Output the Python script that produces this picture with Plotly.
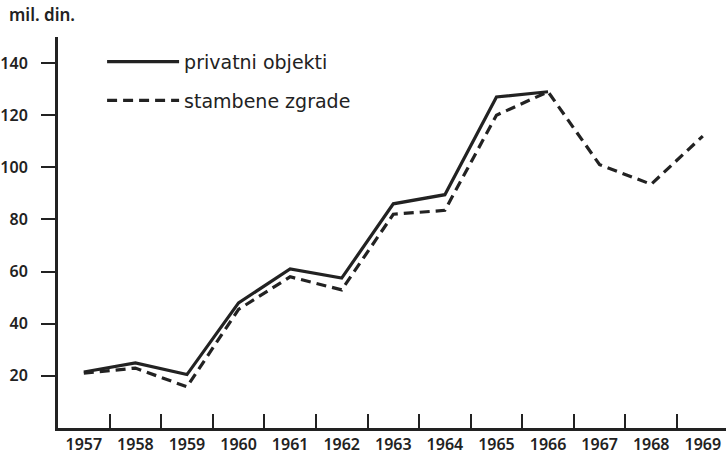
import plotly.graph_objects as go

years = list(range(1957, 1970))
privatni_years = list(range(1957, 1967))
privatni = [21.5, 25, 20.5, 48, 61, 57.5, 86, 89.5, 127, 129]
stambene = [21, 23, 15.8, 45.5, 58, 53, 82, 83.5, 120, 129, 101, 93.5, 112]
y_ticks = [20, 40, 60, 80, 100, 120, 140]
year_labels = [str(y) for y in years]
boundaries = [y + 0.5 for y in years[:-1]]

ink = "#222222"
tick_font = dict(family="Noto Sans", size=16, color=ink, weight=600)

fig = go.Figure()
fig.add_trace(go.Scatter(x=privatni_years, y=privatni, mode="lines",
                         name="privatni objekti", legendgroup="a",
                         line=dict(color=ink, width=3.2)))
fig.add_trace(go.Scatter(x=years, y=stambene, mode="lines",
                         name="stambene zgrade", legendgroup="b",
                         line=dict(color=ink, width=3.2, dash="10px,6px")))
# invisible trace for boundary tick axis
fig.add_trace(go.Scatter(x=boundaries, y=[None]*len(boundaries), xaxis="x2",
                         showlegend=False, hoverinfo="skip"))

fig.update_layout(
    width=726, height=455,
    margin=dict(l=58, r=0, t=37, b=27, autoexpand=False),
    paper_bgcolor="white", plot_bgcolor="white",
    font=dict(family="Noto Sans", size=14, color=ink),
    showlegend=True,
    legend=dict(x=0.066, y=0.985, xanchor="left", yanchor="top",
                bgcolor="rgba(0,0,0,0)", itemwidth=72,
                tracegroupgap=11, font=dict(family="DejaVu Sans", size=19, color=ink)),
    xaxis=dict(range=[1956.5, 1969.45], tickvals=years, ticktext=year_labels,
               ticks="", showgrid=False, zeroline=False, automargin=False,
               showline=True, linecolor=ink, linewidth=3,
               tickfont=tick_font),
    xaxis2=dict(range=[1956.5, 1969.45], overlaying="x", anchor="y",
                tickvals=boundaries, showticklabels=False, ticks="inside",
                ticklen=14, tickwidth=2, tickcolor=ink, showgrid=False,
                zeroline=False, showline=False, side="bottom", automargin=False),
    yaxis=dict(range=[0, 150], tickvals=y_ticks, ticks="outside", ticklen=14,
               tickwidth=2, tickcolor=ink, showgrid=False, zeroline=False,
               showline=True, linecolor=ink, linewidth=3, automargin=False,
               ticklabelstandoff=10, tickfont=tick_font),
)
fig.add_annotation(text="mil. din.", xref="paper", yref="paper", x=-0.077, y=1.0,
                   xanchor="left", yanchor="bottom", yshift=9, showarrow=False,
                   font=dict(family="Noto Sans", size=17, color=ink, weight=600))

fig.write_html("out.html", config={"displayModeBar": False},
               post_script="document.body.style.margin='0';document.body.style.overflow='hidden';")
